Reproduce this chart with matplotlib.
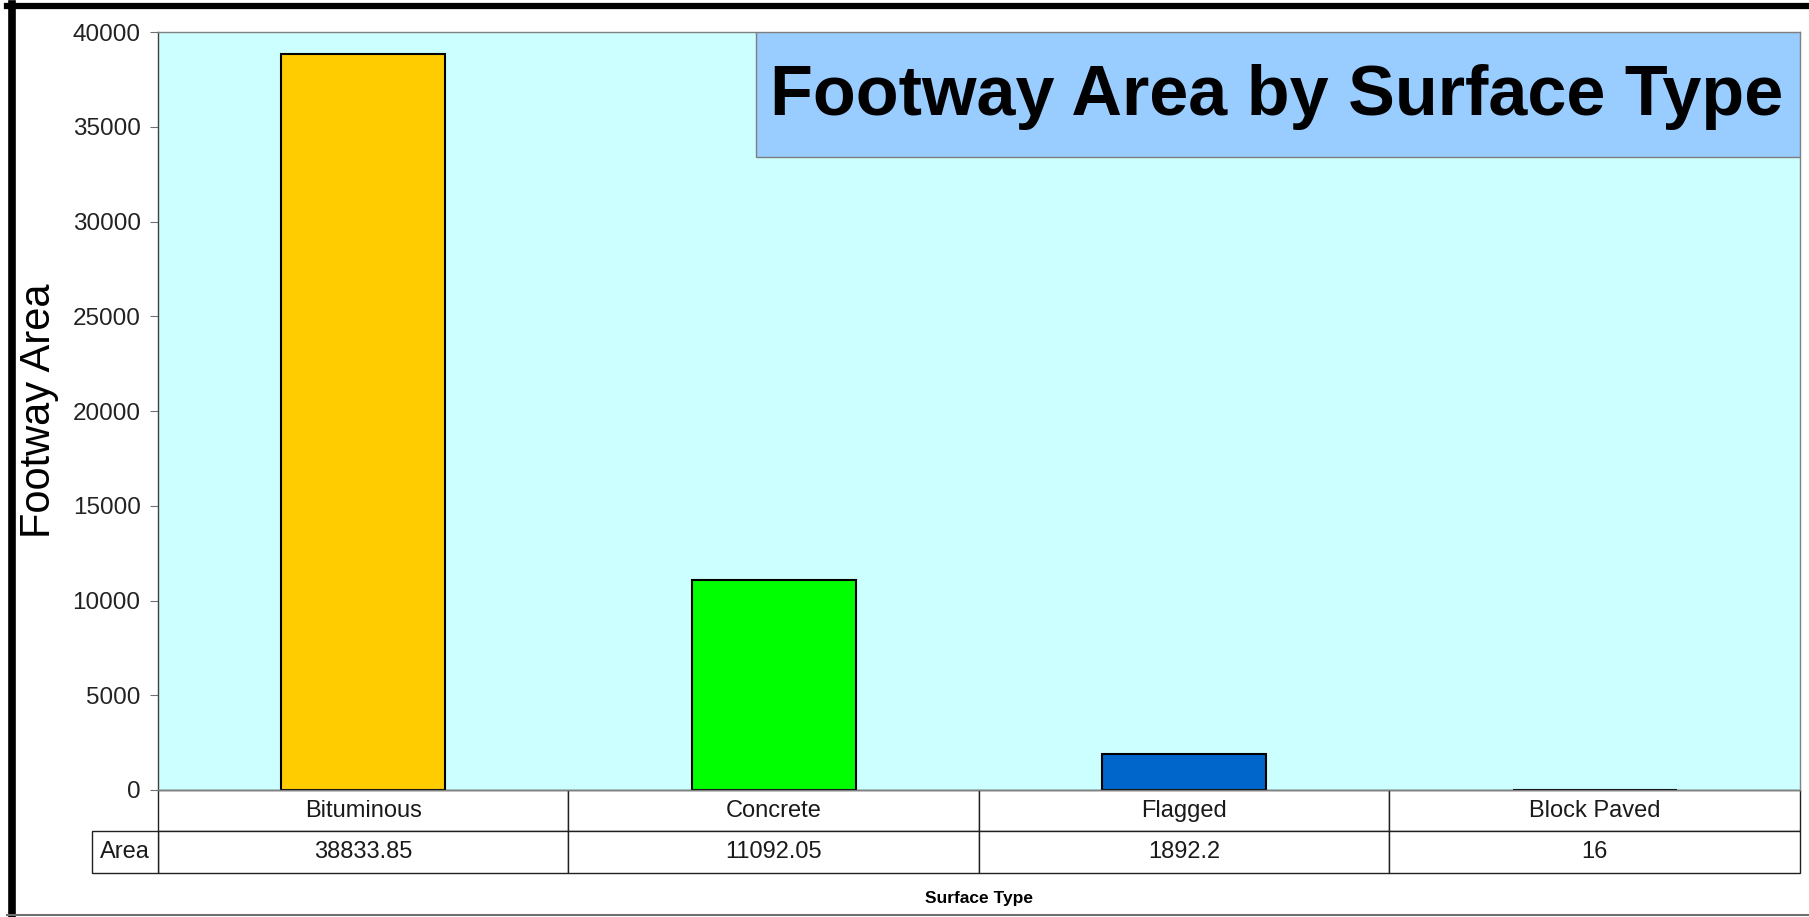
import matplotlib
matplotlib.use("Agg")
import matplotlib.pyplot as plt
from matplotlib.patches import Rectangle
from matplotlib.lines import Line2D

# data
surface_types = ["Bituminous", "Concrete", "Flagged", "Block Paved"]
footway_area = [38833.85, 11092.05, 1892.2, 16]
bar_colours = ["#FFCC00", "#00FF00", "#0066CC", "#9999FF"]
y_ticks = [0, 5000, 10000, 15000, 20000, 25000, 30000, 35000, 40000]
row_label = "Area"


def fmt(v):
    return f"{v:.2f}".rstrip("0").rstrip(".")


plt.rcParams["font.family"] = ["Liberation Sans", "DejaVu Sans"]

fig = plt.figure(figsize=(18.09, 9.17), dpi=100, facecolor="white")
ax = fig.add_axes([0.0873, 0.1385, 0.9077, 0.8263])
ax.set_facecolor("#CCFFFF")

x = list(range(len(surface_types)))
ax.bar(x, footway_area, width=0.4, color=bar_colours,
       edgecolor="black", linewidth=1.5, zorder=2)
ax.set_xlim(-0.5, len(surface_types) - 0.5)
ax.set_ylim(0, 40000)
ax.set_yticks(y_ticks)
ax.set_yticklabels([str(t) for t in y_ticks])
ax.tick_params(axis="y", labelsize=17.5, length=5.5, color="#707070",
               labelcolor="#222222", pad=7)
ax.set_xticks([])
for s in ax.spines.values():
    s.set_color("#808080")
    s.set_linewidth(1)
    s.set_zorder(3)
ax.spines["left"].set_color("#404040")

ax.set_ylabel("Footway Area", fontsize=30)
ax.yaxis.set_label_coords(-0.060, 0.5)

ax.set_xlabel("Surface Type", fontsize=12.5, fontweight="bold")
ax.xaxis.set_label_coords(0.5, -0.133)

# title box in the upper right of the plot area
ax.add_patch(Rectangle((0.3642, 0.8354), 0.6358, 0.1646, transform=ax.transAxes,
                       facecolor="#99CCFF", edgecolor="#7F7F7F", lw=1, zorder=4))
ax.text(0.681, 0.9145, "Footway Area by Surface Type", transform=ax.transAxes,
        ha="center", va="center", fontsize=50.5, fontweight="bold", zorder=5)

# data table under the axis
tbl = ax.table(cellText=[[fmt(v) for v in footway_area]],
               colLabels=surface_types, cellLoc="center",
               bbox=[0, -0.1095, 1, 0.1095])
tbl.auto_set_font_size(False)
tbl.set_fontsize(17)
for cell in tbl.get_celld().values():
    cell.set_edgecolor("#202020")
    cell.set_facecolor("white")
    cell.get_text().set_color("#1A1A1A")

# row label cell left of the table
ax.add_patch(Rectangle((-0.0402, -0.1095), 0.0402, 0.05475, transform=ax.transAxes,
                       facecolor="white", edgecolor="#202020", lw=1,
                       clip_on=False))
ax.text(-0.0201, -0.0821, row_label, transform=ax.transAxes, ha="center",
        va="center", fontsize=17, color="#1A1A1A", clip_on=False)

# outer frame
fig.add_artist(Line2D([0.0064, 0.0064], [0, 0.996], transform=fig.transFigure,
                      color="black", lw=5.5))
fig.add_artist(Line2D([0.004, 1], [0.993, 0.993], transform=fig.transFigure,
                      color="black", lw=4.5))
fig.add_artist(Line2D([0.004, 1], [0.002, 0.002], transform=fig.transFigure,
                      color="#707070", lw=1.5))

fig.savefig("out.png", dpi=100, facecolor="white")
